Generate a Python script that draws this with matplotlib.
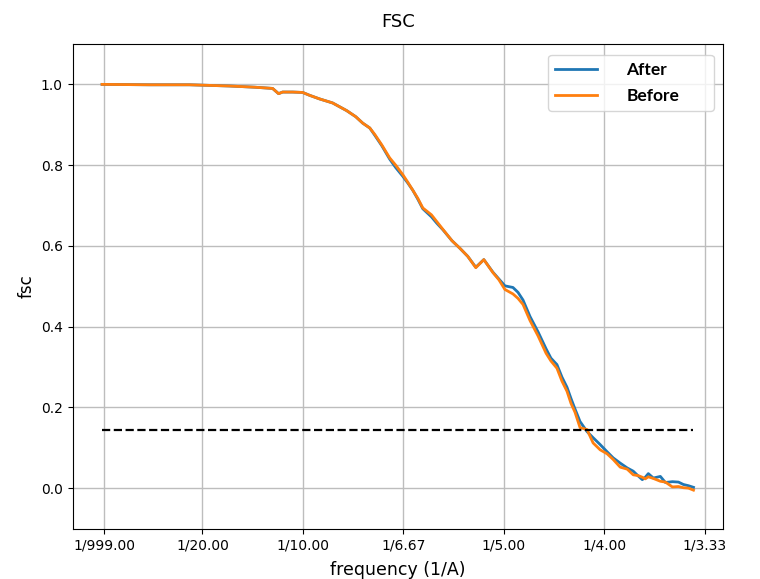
#!/usr/bin/env python3
"""
Plot FSC curves (before / after) against spatial frequency.
"""

import numpy as np
import matplotlib
matplotlib.use('Agg')
import matplotlib.pyplot as plt

# spatial frequency (1/A)
freq = [0.0000, 0.0235, 0.0435, 0.0634, 0.0760, 0.0849, 0.0879, 0.0899, 0.0949, 0.0999,
        0.1033, 0.1083, 0.1148, 0.1218, 0.1263, 0.1298, 0.1333, 0.1358, 0.1393, 0.1432,
        0.1462, 0.1498, 0.1522, 0.1547, 0.1572, 0.1597, 0.1640, 0.1667, 0.1697, 0.1742,
        0.1782, 0.1821, 0.1861, 0.1901, 0.1946, 0.1976, 0.2006, 0.2046, 0.2071, 0.2096,
        0.2131, 0.2171, 0.2211, 0.2235, 0.2265, 0.2290, 0.2315, 0.2335, 0.2355, 0.2380,
        0.2415, 0.2445, 0.2480, 0.2515, 0.2545, 0.2580, 0.2615, 0.2645, 0.2670, 0.2690,
        0.2705, 0.2720, 0.2745, 0.2780, 0.2805, 0.2840, 0.2870, 0.2895, 0.2920, 0.2945]

fsc_after = [1.000, 0.999, 0.999, 0.996, 0.993, 0.990, 0.977, 0.981, 0.981, 0.980,
             0.973, 0.964, 0.954, 0.935, 0.920, 0.904, 0.892, 0.874, 0.848, 0.815,
             0.794, 0.772, 0.756, 0.738, 0.716, 0.692, 0.672, 0.656, 0.640, 0.613,
             0.594, 0.574, 0.547, 0.566, 0.535, 0.518, 0.501, 0.497, 0.485, 0.466,
             0.425, 0.387, 0.345, 0.322, 0.306, 0.275, 0.250, 0.222, 0.196, 0.165,
             0.140, 0.125, 0.108, 0.090, 0.075, 0.062, 0.050, 0.042, 0.030, 0.021,
             0.027, 0.036, 0.025, 0.029, 0.014, 0.016, 0.015, 0.009, 0.006, 0.002]

fsc_before = [1.000, 0.999, 0.999, 0.996, 0.993, 0.990, 0.977, 0.981, 0.981, 0.980,
              0.973, 0.964, 0.954, 0.935, 0.920, 0.904, 0.892, 0.876, 0.850, 0.818,
              0.800, 0.776, 0.758, 0.738, 0.718, 0.694, 0.677, 0.660, 0.641, 0.613,
              0.594, 0.574, 0.546, 0.566, 0.534, 0.516, 0.492, 0.481, 0.470, 0.455,
              0.415, 0.377, 0.334, 0.315, 0.297, 0.265, 0.240, 0.210, 0.188, 0.150,
              0.145, 0.112, 0.095, 0.085, 0.071, 0.052, 0.047, 0.033, 0.031, 0.027,
              0.023, 0.028, 0.024, 0.017, 0.015, 0.003, 0.004, 0.001, 0.000, -0.005]

threshold = 0.143

tick_freqs = [0.001, 0.05, 0.1, 0.15, 0.2, 0.25, 0.3]
tick_labels = ['1/999.00', '1/20.00', '1/10.00', '1/6.67', '1/5.00', '1/4.00', '1/3.33']

fig = plt.figure(figsize=(7.6, 5.79), dpi=100)
ax = fig.add_axes([0.0954, 0.0872, 0.856, 0.8368])

ax.plot(freq, fsc_after, color='#1f77b4', linewidth=2.0, label='After')
ax.plot(freq, fsc_before, color='#ff7f0e', linewidth=2.0, label='Before')
ax.plot([freq[0], freq[-1]], [threshold, threshold], 'k--', linewidth=1.6)

ax.set_ylim(-0.1, 1.1)
ax.set_xticks(tick_freqs)
ax.set_xticklabels(tick_labels)
ax.set_yticks(np.arange(0, 1.01, 0.2))
ax.tick_params(labelsize=10)
ax.grid(True, color='#bdbdbd', linewidth=1.0)

ax.set_title('FSC', fontsize=13, pad=12)
ax.set_xlabel('frequency (1/A)', fontsize=12.5, labelpad=6)
ax.set_ylabel('fsc', fontsize=12)

# wide legend box, entries left-packed with extra room on the right
leg = ax.legend(loc='upper left', bbox_to_anchor=(0.731, 0.5, 0.255, 0.478),
                mode='expand', prop={'family': 'Lato', 'weight': 'bold', 'size': 12.5},
                handlelength=2.4, handletextpad=1.7, borderpad=0.4, labelspacing=0.6,
                borderaxespad=0.0)

fig.savefig('out.png', dpi=100)
